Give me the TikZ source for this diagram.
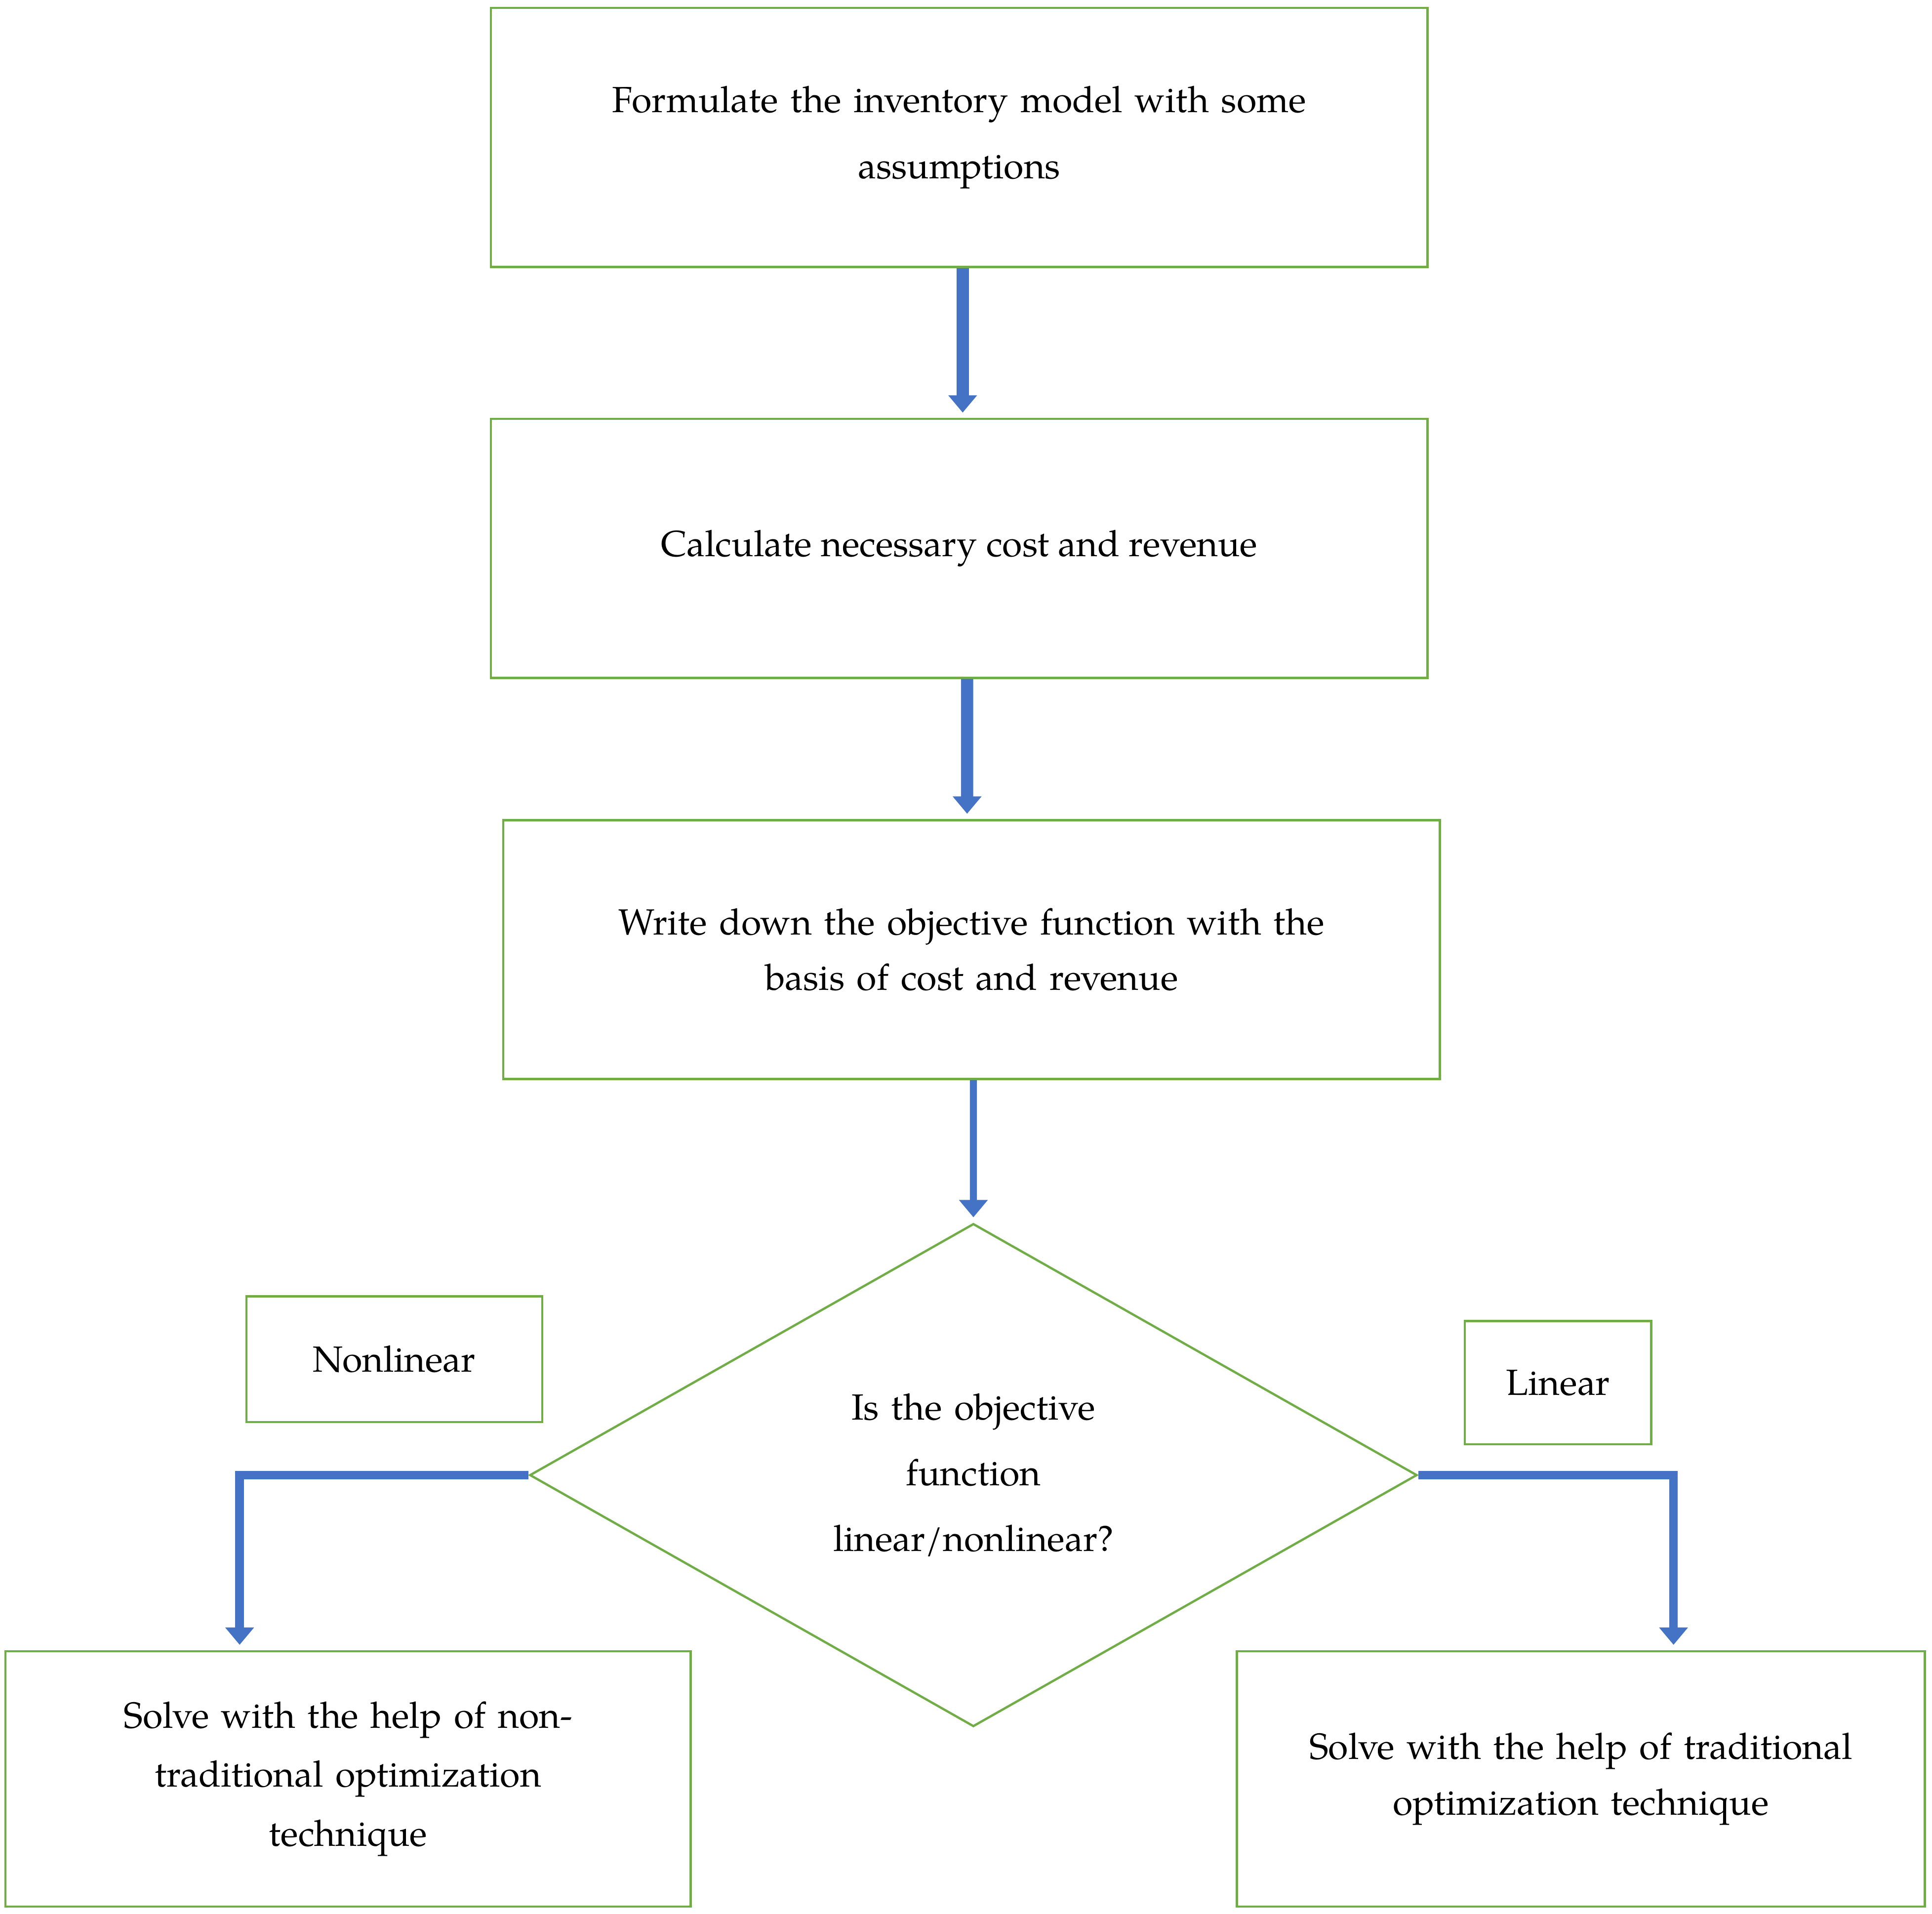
\documentclass[tikz,border=0pt]{standalone}
\usepackage{fontspec}
\setmainfont{TeX Gyre Pagella}
\usetikzlibrary{shapes.geometric,arrows.meta}
\definecolor{boxgreen}{HTML}{70AD47}
\definecolor{arrblue}{HTML}{4472C4}
\begin{document}
\begin{tikzpicture}[x=0.025cm,y=-0.025cm,
  box/.style={draw=boxgreen,line width=1.3pt,rectangle,inner sep=0pt,align=center,
    font=\fontsize{21}{38}\selectfont},
  flow/.style={draw=arrblue,line width=#1,-{Triangle[length=10pt,width=16pt]},shorten >=3pt},
  flow/.default=6pt]
  \useasboundingbox (0,0) rectangle (1568,1553);

  \node[box,minimum width=19.0cm,minimum height=5.25cm,text width=17cm] (b1) at (778.5,111.5)
    {Formulate the inventory model with some\\assumptions};
  \node[box,minimum width=19.0cm,minimum height=5.25cm] (b2) at (778.5,445)
    {Calculate necessary cost and revenue};
  \node[box,minimum width=19.0cm,minimum height=5.25cm,text width=17cm,
    font=\fontsize{21}{32}\selectfont] (b3) at (788.5,770.5)
    {Write down the objective function with the\\basis of cost and revenue};
  \node[box,shape=diamond,minimum width=18cm,minimum height=10.2cm,text width=6cm] (dia) at (790,1197)
    {Is the objective\\function\\linear/nonlinear?};
  \node[box,minimum width=6cm,minimum height=2.55cm] (nlab) at (320,1103) {Nonlinear};
  \node[box,minimum width=3.78cm,minimum height=2.5cm] (llab) at (1264.5,1122) {Linear};
  \node[box,minimum width=13.9cm,minimum height=5.18cm,text width=12.5cm,
    font=\fontsize{21}{34}\selectfont] (sl) at (282.5,1443.5)
    {Solve with the help of non-\\traditional optimization\\technique};
  \node[box,minimum width=13.95cm,minimum height=5.18cm,text width=13cm,
    font=\fontsize{21}{32}\selectfont] (sr) at (1283,1443.5)
    {Solve with the help of traditional\\optimization technique};

  \draw[flow=7pt] ([xshift=0.07cm]b1.south) -- ([xshift=0.07cm]b2.north);
  \draw[flow=7pt] ([xshift=0.16cm]b2.south) -- ([xshift=-0.09cm]b3.north);
  \draw[flow=4pt] ([xshift=0.0375cm]b3.south) -- (dia.north);
  \draw[flow=5pt] (dia.west) -| ([xshift=-2.2cm]sl.north);
  \draw[flow=5pt] (dia.east) -| ([xshift=1.88cm]sr.north);
\end{tikzpicture}
\end{document}
